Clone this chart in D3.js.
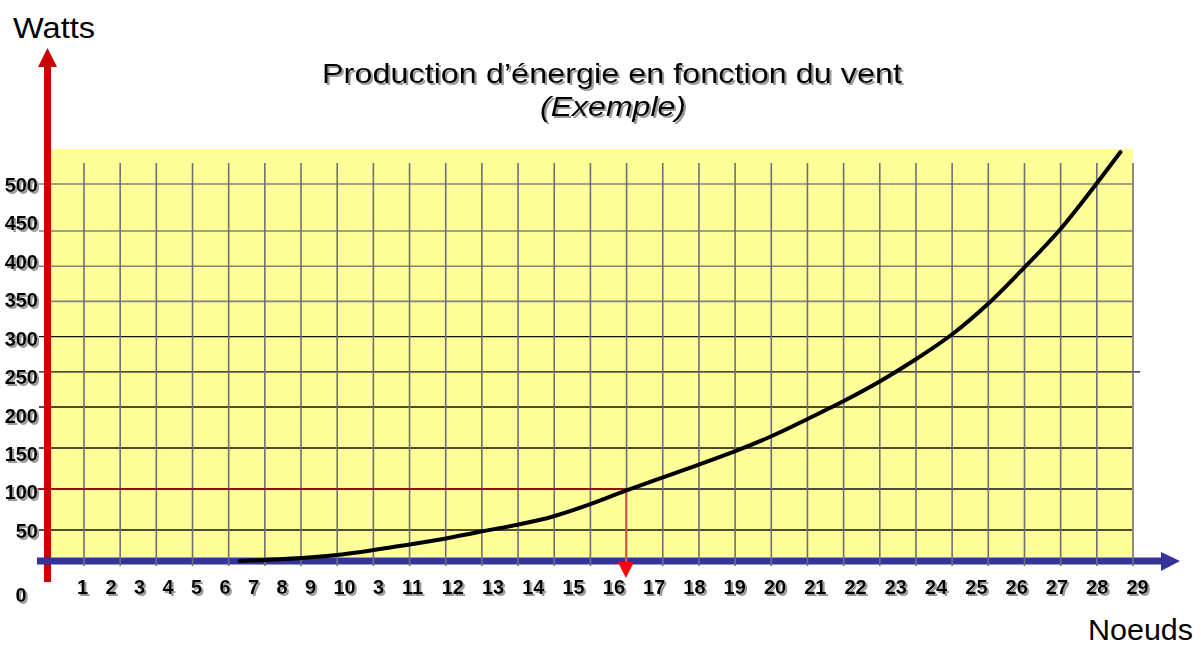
<!DOCTYPE html>
<html>
<head>
<meta charset="utf-8">
<script src="https://cdn.jsdelivr.net/npm/d3@7"></script>
<style>
  html, body { margin: 0; padding: 0; background: #fff; }
  svg { display: block; font-family: "Liberation Sans", Arial, sans-serif; }
</style>
</head>
<body>
<div id="chart"></div>
<script>
// wind power curve (example)

const xTickValues = [1, 2, 3, 4, 5, 6, 7, 8, 9, 10, 10.5, 11, 12, 13, 14, 15, 16, 17, 18, 19, 20, 21, 22, 23, 24, 25, 26, 27, 28, 29];
const xTickLabels = ['1', '2', '3', '4', '5', '6', '7', '8', '9', '10', '3', '11', '12', '13', '14', '15', '16', '17', '18', '19', '20', '21', '22', '23', '24', '25', '26', '27', '28', '29'];
const yTicks = [50, 100, 150, 200, 250, 300, 350, 400, 450, 500];
const yGridGray = [350, 400, 450, 500];

const curveKnots = [6.54, 9.79, 10.82, 11.77, 12.66, 13.58, 14.50, 15.34, 16.31, 17.18, 18.02, 18.96, 19.88, 20.87, 21.72, 22.59, 23.48, 24.42, 25.27, 26.19, 27.08, 27.95, 28.59];
const curveWatts = [0, 9.7, 24.2, 35.5, 46.8, 56.1, 66.5, 80, 98, 113.4, 128, 145, 163.4, 186.6, 208.5, 235.5, 266.8, 303.7, 344.9, 397.4, 451, 497.9, 534];

const gridCount = 30;
const markWatts = 100;
const markKnots = 16.31;

const W = 1201, H = 647;

const svg = d3.select('#chart').append('svg')
  .attr('width', W)
  .attr('height', H);

const defs = svg.append('defs');
defs.append('filter')
  .attr('id', 'shadow')
  .attr('x', '-10%').attr('y', '-30%')
  .attr('width', '130%').attr('height', '170%')
  .append('feDropShadow')
  .attr('dx', 2).attr('dy', 2)
  .attr('stdDeviation', 0.7)
  .attr('flood-color', '#9a9a9a');

// scales (the drawing is hand made, so they are piecewise)
const x = d3.scaleLinear().domain([1, 9, 10, 11, 29]).range([82, 310, 344, 412, 1137]);
const y = d3.scaleLinear().domain([0, 50, 200, 450, 500]).range([561, 530, 407, 231, 184]);
const yLabel = d3.scaleLinear().domain([50, 500]).range([531, 185]);
const gridX = d3.scaleLinear().domain([0, gridCount - 1]).range([84, 1133]);

const plot = { left: 51, right: 1133, top: 149, bottom: 557 };

// yellow plot area
svg.append('rect')
  .attr('x', plot.left)
  .attr('y', plot.top)
  .attr('width', plot.right - plot.left)
  .attr('height', plot.bottom - plot.top)
  .attr('fill', '#ffff99');

// horizontal grid
svg.append('g')
  .selectAll('line')
  .data(yTicks)
  .join('line')
  .attr('x1', d => d === 350 ? 50 : 39)
  .attr('x2', d => d === 250 ? 1140 : 1132)
  .attr('y1', d => y(d))
  .attr('y2', d => y(d))
  .attr('stroke', d => yGridGray.includes(d) ? '#808080' : '#111')
  .attr('stroke-width', d => yGridGray.includes(d) ? 1.6 : 1.3);

// red vertical axis
svg.append('line')
  .attr('x1', 47.5).attr('x2', 47.5)
  .attr('y1', 582).attr('y2', 64)
  .attr('stroke', '#cc0000')
  .attr('stroke-width', 7);
svg.append('path')
  .attr('d', 'M38,67 L57,67 L47.5,48 Z')
  .attr('fill', '#cc0000');

// blue horizontal axis
svg.append('line')
  .attr('x1', 37).attr('x2', 1165)
  .attr('y1', y(0)).attr('y2', y(0))
  .attr('stroke', '#333399')
  .attr('stroke-width', 7);
svg.append('path')
  .attr('d', `M1161,${y(0) - 9} L1180,${y(0)} L1161,${y(0) + 10} Z`)
  .attr('fill', '#333399');

// vertical grid
svg.append('g')
  .selectAll('line')
  .data(d3.range(gridCount))
  .join('line')
  .attr('x1', d => gridX(d))
  .attr('x2', d => gridX(d))
  .attr('y1', 163)
  .attr('y2', 566)
  .attr('stroke', '#6e6e78')
  .attr('stroke-width', 1.6);

// reading of 100 W
const mx = x(markKnots), my = y(markWatts);
svg.append('line')
  .attr('x1', 37).attr('x2', mx)
  .attr('y1', my).attr('y2', my)
  .attr('stroke', '#a00000')
  .attr('stroke-width', 1.3);
svg.append('line')
  .attr('x1', mx).attr('x2', mx)
  .attr('y1', my).attr('y2', 566)
  .attr('stroke', '#ff4a3a')
  .attr('stroke-width', 1.5);
svg.append('path')
  .attr('d', `M${mx - 8},562 L${mx + 8},562 L${mx},578 Z`)
  .attr('fill', '#ff0000');

// curve
const line = d3.line()
  .x(d => x(d[0]))
  .y(d => y(d[1]))
  .curve(d3.curveMonotoneX);

svg.append('path')
  .datum(d3.zip(curveKnots, curveWatts))
  .attr('d', line)
  .attr('fill', 'none')
  .attr('stroke', '#000')
  .attr('stroke-width', 4)
  .attr('stroke-linecap', 'round');

// axes labels
const xAxis = svg.append('g')
  .attr('transform', 'translate(0,577)')
  .call(d3.axisBottom(x).tickValues(xTickValues).tickSize(0).tickPadding(3)
    .tickFormat((d, i) => xTickLabels[i]));
xAxis.select('.domain').remove();
xAxis.selectAll('.tick text')
  .attr('font-size', 20)
  .attr('font-weight', 'bold')
  .attr('font-family', '"Liberation Sans", Arial, sans-serif')
  .attr('fill', '#000')
  .attr('filter', 'url(#shadow)');

const yAxis = svg.append('g')
  .attr('transform', 'translate(38,0)')
  .call(d3.axisLeft(yLabel).tickValues(yTicks).tickSize(0).tickPadding(0));
yAxis.select('.domain').remove();
yAxis.selectAll('.tick text')
  .attr('font-size', 20)
  .attr('font-weight', 'bold')
  .attr('font-family', '"Liberation Sans", Arial, sans-serif')
  .attr('fill', '#000')
  .attr('filter', 'url(#shadow)');

svg.append('text')
  .attr('x', 21).attr('y', 602)
  .attr('text-anchor', 'middle')
  .attr('font-size', 20)
  .attr('font-weight', 'bold')
  .attr('filter', 'url(#shadow)')
  .text('0');

svg.append('text')
  .attr('x', 13).attr('y', 38)
  .attr('font-size', 30)
  .attr('textLength', 82)
  .attr('lengthAdjust', 'spacingAndGlyphs')
  .text('Watts');

svg.append('text')
  .attr('x', 1088).attr('y', 640)
  .attr('font-size', 29)
  .attr('textLength', 105)
  .attr('lengthAdjust', 'spacingAndGlyphs')
  .text('Noeuds');

// title
svg.append('text')
  .attr('x', 322).attr('y', 83)
  .attr('font-size', 28)
  .attr('textLength', 580)
  .attr('lengthAdjust', 'spacingAndGlyphs')
  .attr('filter', 'url(#shadow)')
  .text('Production d’énergie en fonction du vent');

svg.append('text')
  .attr('x', 540).attr('y', 116)
  .attr('font-size', 28)
  .attr('font-style', 'italic')
  .attr('textLength', 146)
  .attr('lengthAdjust', 'spacingAndGlyphs')
  .attr('filter', 'url(#shadow)')
  .text('(Exemple)');
</script>
</body>
</html>
